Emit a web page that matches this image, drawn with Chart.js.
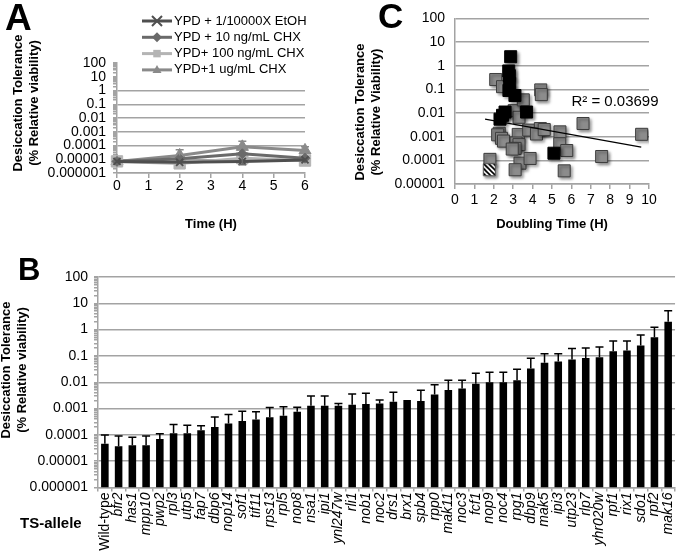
<!DOCTYPE html>
<html>
<head>
<meta charset="utf-8">
<script src="https://cdn.jsdelivr.net/npm/chart.js"></script>
<style>
  body { margin: 0; background: #fff; }
  #lienzo { position: relative; width: 686px; height: 553px; overflow: hidden;
            font-family: 'Liberation Sans', Arial, sans-serif; color: #000; }
  canvas { position: absolute; }
  .letra { position: absolute; font-weight: bold; line-height: 1; }
  .ytit { position: absolute; transform: translate(-50%, -50%) rotate(-90deg);
          font-weight: bold; font-size: 13px; line-height: 16px; text-align: center; white-space: nowrap; }
</style>
</head>
<body>
<div id="lienzo">
  <canvas id="chart-a" width="330" height="235" style="left:0;top:0"></canvas>
  <canvas id="chart-c" width="346" height="235" style="left:340px;top:0"></canvas>
  <canvas id="chart-b" width="686" height="308" style="left:0;top:245px"></canvas>

  <div class="letra" style="left:5px;top:-1px;font-size:37px">A</div>
  <div class="letra" style="left:378px;top:-2px;font-size:35px">C</div>
  <div class="letra" style="left:18px;top:254px;font-size:31px">B</div>

  <div class="ytit" style="left:26px;top:103px">Desiccation Tolerance<br>(% Relative viability)</div>
  <div class="ytit" style="left:368px;top:112px">Desiccation Tolerance<br>(% Relative Viability)</div>
  <div class="ytit" style="left:14px;top:370px">Desiccation Tolerance<br>(% Relative viability)</div>
  <div style="position:absolute;left:20px;top:514px;font-weight:bold;font-size:15px;line-height:18px">TS-allele</div>
</div>

<script>
// ═══════════════════════════════════════════════════════════
//  Figura de tolerancia a la desecación — paneles A, B y C
// ═══════════════════════════════════════════════════════════

// ── DATOS ───────────────────────────────────────────────────
const yDecadas   = [1e-6, 1e-5, 1e-4, 1e-3, 1e-2, 1e-1, 1, 10, 100];
const yEtiquetas = ['0.000001', '0.00001', '0.0001', '0.001', '0.01', '0.1', '1', '10', '100'];

// Panel A: tiempo (h) frente a tolerancia
const aTiempos = [0, 2, 4, 6];
const aEtOH    = [7e-6, 6e-6, 7e-6, 9e-6];
const a10ng    = [7e-6, 1.1e-5, 2.5e-5, 1.2e-5];
const a100ng   = [7e-6, 5e-6, 1.2e-5, 8e-6];
const a1ug     = [7e-6, 1.9e-5, 8e-5, 4.4e-5];
const a1ugSup  = [null, 5e-5, 2e-4, 8e-5];
const a10ngInf = [null, null, 4e-6, null];
const aSeries  = ['YPD + 1/10000X EtOH', 'YPD + 10 ng/mL CHX', 'YPD+ 100 ng/mL CHX', 'YPD+1 ug/mL CHX'];

// Panel B: alelos TS
const bAlelos = ['Wild-type', 'bfr2', 'has1', 'mpp10', 'pwp2', 'rpl3', 'utp5', 'fap7', 'dbp6', 'nop14',
  'sof1', 'tif11', 'rps13', 'rpl5', 'nop8', 'nsa1', 'ipi1', 'ynl247w', 'rli1', 'nob1', 'noc2', 'drs1',
  'brx1', 'spb4', 'rpp0', 'mak11', 'noc3', 'fcf1', 'nop9', 'noc4', 'rpg1', 'dbp9', 'mak5', 'ipi3',
  'utp23', 'rlp7', 'yhr020w', 'rpf1', 'rix1', 'sdo1', 'rpf2', 'mak16'];
const bValores = [4.6e-5, 3.7e-5, 4.0e-5, 4.0e-5, 7.0e-5, 1.15e-4, 1.15e-4, 1.5e-4, 2.0e-4, 2.7e-4,
  3.4e-4, 3.8e-4, 4.7e-4, 5.3e-4, 7.5e-4, 1.27e-3, 1.27e-3, 1.27e-3, 1.4e-3, 1.5e-3, 1.55e-3, 1.8e-3,
  2.1e-3, 1.95e-3, 3.4e-3, 5.1e-3, 5.8e-3, 8.7e-3, 1.0e-2, 1.0e-2, 1.2e-2, 3.3e-2, 5.5e-2, 6.2e-2,
  7.4e-2, 8.3e-2, 9.0e-2, 0.15, 0.16, 0.25, 0.51, 2.0];
const bErrorSup = [1.0e-4, 9e-5, 8.1e-5, 9e-5, 1.1e-4, 2.5e-4, 2.3e-4, 2.2e-4, 4.8e-4, 5.9e-4,
  7.9e-4, 7.5e-4, 1.1e-3, 1.17e-3, 1.13e-3, 3.0e-3, 3.0e-3, 1.55e-3, 3.6e-3, 3.8e-3, 2.1e-3, 4.2e-3,
  null, 5.0e-3, 8.1e-3, 1.2e-2, 1.2e-2, 2.2e-2, 2.4e-2, 2.4e-2, 3.1e-2, 8.1e-2, 0.12, 0.12,
  0.19, 0.2, 0.22, 0.37, 0.37, 0.63, 1.24, 5.2];

// Panel C: tiempo de duplicación frente a tolerancia
const cGrisX = [1.8, 2.1, 2.45, 2.28, 2.2, 2.4, 2.5, 3.05, 3.52, 3.3, 3.26, 3.15, 3.3, 3.1, 3.35, 3.1,
  3.87, 3.8, 4.4, 4.2, 4.6, 4.42, 4.45, 5.41, 5.4, 5.76, 5.63, 6.6, 7.56, 9.62, 2.95];
const cGrisY = [1.1e-4, 0.26, 0.13, 1.4e-3, 1.2e-3, 8.5e-4, 6.5e-4, 0.0126, 0.036, 6.6e-3, 1.25e-3,
  5.4e-4, 4.6e-4, 3.2e-4, 7.6e-5, 4.0e-5, 1.2e-4, 1.9e-3, 2.2e-3, 1.3e-3, 2.0e-3, 0.095, 0.06,
  1.6e-3, 5e-4, 2.6e-4, 3.6e-5, 3.6e-3, 1.45e-4, 1.26e-3, 3e-4];
const cNegroX = [2.87, 2.77, 2.8, 2.82, 2.78, 3.09, 2.58, 2.32, 3.69, 5.1, 2.45];
const cNegroY = [2.4, 0.6, 0.38, 0.18, 0.09, 0.055, 0.011, 0.0055, 0.011, 2.0e-4, 0.008];
const cRayadoX = [1.77];
const cRayadoY = [4e-5];
const cTendX = [1.55, 9.6];
const cTendY = [0.0055, 0.00036];
const cR2Texto = 'R² = 0.03699';

// ── ESTILOS ─────────────────────────────────────────────────
const GRIS = '#a3a3a3';
const FUENTE = "'Liberation Sans', Arial, sans-serif";
Chart.defaults.font.family = FUENTE;
Chart.defaults.color = '#000';

const puntos = (xs, ys) => xs.map((x, i) => ({ x, y: ys[i] }));

function ticksLog(conMenores, minimo) {
  return function (escala) {
    const lista = [];
    const dec = yDecadas.filter(d => d >= minimo);
    dec.forEach((d, i) => {
      lista.push({ value: d });
      if (conMenores && i < dec.length - 1) {
        for (let m = 2; m <= 9; m++) lista.push({ value: d * m });
      }
    });
    escala.ticks = lista;
  };
}
const etiquetaLog = (v) => {
  const i = yDecadas.indexOf(v);
  return i >= 0 ? yEtiquetas[i] : '';
};
const rejilla = (tope) => (c) =>
  (c.tick && yDecadas.includes(c.tick.value) && c.tick.value <= tope) ? GRIS : 'transparent';

// ── PLUGINS ─────────────────────────────────────────────────
const barrasError = {
  id: 'barrasError',
  afterDatasetsDraw(chart) {
    const ctx = chart.ctx;
    const esc = chart.scales.y;
    chart.data.datasets.forEach((ds, di) => {
      if (!ds.errSup && !ds.errInf) return;
      const meta = chart.getDatasetMeta(di);
      ctx.save();
      ctx.strokeStyle = ds.errColor || '#000';
      ctx.lineWidth = 1.5;
      meta.data.forEach((el, i) => {
        [ds.errSup, ds.errInf].forEach(arr => {
          if (!arr || arr[i] == null) return;
          const yp = esc.getPixelForValue(arr[i]);
          ctx.beginPath();
          ctx.moveTo(el.x, el.y); ctx.lineTo(el.x, yp);
          ctx.moveTo(el.x - 4, yp); ctx.lineTo(el.x + 4, yp);
          ctx.stroke();
        });
      });
      ctx.restore();
    });
  }
};

function dibujarMarcador(ctx, estilo, x, y, r) {
  ctx.beginPath();
  if (estilo === 'crossRot') {
    ctx.moveTo(x - r, y - r); ctx.lineTo(x + r, y + r);
    ctx.moveTo(x - r, y + r); ctx.lineTo(x + r, y - r);
    ctx.lineWidth = 2; ctx.stroke();
    return;
  }
  if (estilo === 'rectRot') {
    ctx.moveTo(x, y - r); ctx.lineTo(x + r, y); ctx.lineTo(x, y + r); ctx.lineTo(x - r, y);
  } else if (estilo === 'rect') {
    ctx.rect(x - r * 0.75, y - r * 0.75, r * 1.5, r * 1.5);
  } else {
    ctx.moveTo(x, y - r); ctx.lineTo(x + r * 0.9, y + r * 0.6); ctx.lineTo(x - r * 0.9, y + r * 0.6);
  }
  ctx.closePath();
  ctx.fill();
}

const leyendaA = {
  id: 'leyendaA',
  afterDraw(chart) {
    const ctx = chart.ctx;
    chart.data.datasets.forEach((ds, i) => {
      const yy = 21 + i * 16.3;
      ctx.save();
      ctx.strokeStyle = ds.borderColor;
      ctx.fillStyle = ds.borderColor;
      ctx.lineWidth = 3;
      ctx.beginPath(); ctx.moveTo(142, yy); ctx.lineTo(172, yy); ctx.stroke();
      dibujarMarcador(ctx, ds.pointStyle, 157, yy, 5);
      ctx.fillStyle = '#000';
      ctx.font = '13px ' + FUENTE;
      ctx.textBaseline = 'middle';
      ctx.fillText(ds.label, 174, yy);
      ctx.restore();
    });
  }
};

const sombraPuntos = {
  id: 'sombraPuntos',
  beforeDatasetDraw(chart, args) {
    if (!chart.data.datasets[args.index].sombra) return;
    const ctx = chart.ctx;
    ctx.save();
    ctx.shadowColor = 'rgba(0,0,0,0.45)';
    ctx.shadowBlur = 3;
    ctx.shadowOffsetX = 2;
    ctx.shadowOffsetY = 2;
  },
  afterDatasetDraw(chart, args) {
    if (chart.data.datasets[args.index].sombra) chart.ctx.restore();
  }
};

const textoR2 = {
  id: 'textoR2',
  afterDraw(chart) {
    const ctx = chart.ctx;
    ctx.save();
    ctx.font = '15px ' + FUENTE;
    ctx.fillStyle = '#000';
    ctx.textBaseline = 'middle';
    ctx.fillText(cR2Texto, chart.scales.x.getPixelForValue(6.0), chart.scales.y.getPixelForValue(0.03));
    ctx.restore();
  }
};

function patronRayado() {
  const c = document.createElement('canvas');
  c.width = 5; c.height = 5;
  const g = c.getContext('2d');
  g.fillStyle = '#fff'; g.fillRect(0, 0, 5, 5);
  g.strokeStyle = '#000'; g.lineWidth = 1.6;
  g.beginPath();
  g.moveTo(-1, -1); g.lineTo(6, 6);
  g.moveTo(-1, 4); g.lineTo(1, 6);
  g.moveTo(4, -1); g.lineTo(6, 1);
  g.stroke();
  return g.createPattern(c, 'repeat');
}

// ── PANEL A ─────────────────────────────────────────────────
function serieA(etiqueta, valores, color, estilo, radio, extra) {
  return Object.assign({
    label: etiqueta,
    data: puntos(aTiempos, valores),
    borderColor: color,
    backgroundColor: color,
    pointBackgroundColor: color,
    pointBorderColor: color,
    pointStyle: estilo,
    pointRadius: radio,
    pointBorderWidth: estilo === 'crossRot' ? 2 : 1,
    borderWidth: 3,
    tension: 0,
    fill: false,
    clip: false,
    errColor: color
  }, extra || {});
}

new Chart(document.getElementById('chart-a'), {
  type: 'line',
  data: {
    datasets: [
      serieA(aSeries[0], aEtOH, '#4f4f4f', 'crossRot', 5),
      serieA(aSeries[1], a10ng, '#6a6a6a', 'rectRot', 5, { errInf: a10ngInf }),
      serieA(aSeries[2], a100ng, '#b4b4b4', 'rect', 8),
      serieA(aSeries[3], a1ug, '#8a8a8a', 'triangle', 7, { errSup: a1ugSup })
    ]
  },
  options: {
    responsive: false,
    animation: false,
    layout: { padding: { top: 63, right: 25, left: 0, bottom: 0 } },
    plugins: { legend: { display: false }, tooltip: { enabled: false } },
    scales: {
      x: {
        type: 'linear', min: 0, max: 6,
        ticks: { stepSize: 1, padding: 0, autoSkip: false, maxRotation: 0, font: { size: 14 } },
        grid: { drawOnChartArea: false, tickLength: 5, color: GRIS, lineWidth: 1.5 },
        border: { color: GRIS, width: 1.5 },
        title: { display: true, text: 'Time (H)', font: { size: 13, weight: 'bold' }, padding: { top: 0, bottom: 3 } },
        afterFit: s => { s.height = 62; }
      },
      y: {
        type: 'logarithmic', min: 1e-6, max: 100,
        afterBuildTicks: ticksLog(true, 1e-6),
        ticks: { autoSkip: false, padding: 7, font: { size: 14 }, callback: etiquetaLog },
        grid: { color: rejilla(1), tickColor: GRIS, tickLength: 4, lineWidth: 1.5 },
        border: { color: GRIS, width: 1.5 },
        afterFit: s => { s.width = 117; }
      }
    }
  },
  plugins: [barrasError, leyendaA]
});

// ── PANEL C ─────────────────────────────────────────────────
new Chart(document.getElementById('chart-c'), {
  type: 'scatter',
  data: {
    datasets: [
      { data: puntos(cTendX, cTendY), showLine: true, borderColor: '#000', borderWidth: 1.2,
        pointRadius: 0, order: 0 },
      { data: puntos(cNegroX, cNegroY), pointStyle: 'rect', pointRadius: 8.5,
        backgroundColor: '#000', borderColor: '#000', borderWidth: 1, sombra: true, order: 1 },
      { data: puntos(cRayadoX, cRayadoY), pointStyle: 'rect', pointRadius: 8.5,
        backgroundColor: patronRayado(), borderColor: '#555', borderWidth: 1, sombra: true, order: 2 },
      { data: puntos(cGrisX, cGrisY), pointStyle: 'rect', pointRadius: 8.5,
        backgroundColor: '#8c8c8c', borderColor: '#3c3c3c', borderWidth: 1, sombra: true, order: 3 }
    ]
  },
  options: {
    responsive: false,
    animation: false,
    layout: { padding: { top: 13, right: 37, left: 0, bottom: 0 } },
    plugins: { legend: { display: false }, tooltip: { enabled: false } },
    scales: {
      x: {
        type: 'linear', min: 0, max: 10,
        ticks: { stepSize: 1, padding: 3, autoSkip: false, maxRotation: 0, minRotation: 0, font: { size: 14 } },
        grid: { drawOnChartArea: false, tickLength: 5, color: GRIS, lineWidth: 1.5 },
        border: { color: GRIS, width: 1.5 },
        title: { display: true, text: 'Doubling Time (H)', font: { size: 13, weight: 'bold' }, padding: { top: 0, bottom: 3 } },
        afterFit: s => { s.height = 51; }
      },
      y: {
        type: 'logarithmic', min: 1e-5, max: 100,
        afterBuildTicks: ticksLog(false, 1e-5),
        ticks: { autoSkip: false, padding: 10, font: { size: 14 }, callback: etiquetaLog },
        grid: { color: rejilla(100), drawTicks: false, lineWidth: 1.5 },
        border: { color: GRIS, width: 1.5 },
        afterFit: s => { s.width = 115; }
      }
    }
  },
  plugins: [sombraPuntos, textoR2]
});

// ── PANEL B ─────────────────────────────────────────────────
new Chart(document.getElementById('chart-b'), {
  type: 'bar',
  data: {
    labels: bAlelos,
    datasets: [{
      data: bValores,
      errSup: bErrorSup,
      backgroundColor: '#000',
      barPercentage: 0.55,
      categoryPercentage: 1
    }]
  },
  options: {
    responsive: false,
    animation: false,
    layout: { padding: { top: 32, right: 2, left: 0, bottom: 0 } },
    plugins: { legend: { display: false }, tooltip: { enabled: false } },
    scales: {
      x: {
        ticks: {
          autoSkip: false, maxRotation: 90, minRotation: 90, padding: 1,
          font: (c) => ({ size: 14, style: c.index === 0 ? 'normal' : 'italic' })
        },
        grid: { offset: true, drawOnChartArea: false, tickLength: 4, color: GRIS, lineWidth: 1.5 },
        border: { color: GRIS, width: 1.5 },
        afterFit: s => { s.height = 65.5; }
      },
      y: {
        type: 'logarithmic', min: 1e-6, max: 100,
        afterBuildTicks: ticksLog(true, 1e-6),
        ticks: { autoSkip: false, padding: 6, font: { size: 14 }, callback: etiquetaLog },
        grid: { color: rejilla(100), tickColor: GRIS, tickLength: 4, lineWidth: 1.5 },
        border: { color: GRIS, width: 1.5 },
        afterFit: s => { s.width = 98; }
      }
    }
  },
  plugins: [barrasError]
});
</script>
</body>
</html>
